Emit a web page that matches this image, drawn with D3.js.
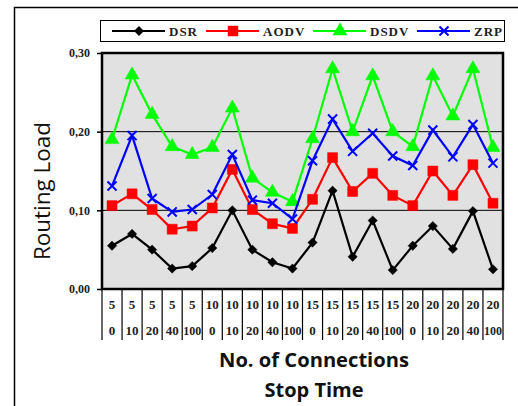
<!DOCTYPE html>
<html><head><meta charset="utf-8">
<script src="https://cdn.jsdelivr.net/npm/d3@7"></script>
<style>body{margin:0;background:#fff}svg{display:block}</style>
</head><body>
<script>
const connections = [5,5,5,5,5,10,10,10,10,10,15,15,15,15,15,20,20,20,20,20];
const stopTimes   = [0,10,20,40,100,0,10,20,40,100,0,10,20,40,100,0,10,20,40,100];
const DSR  = [0.055,0.070,0.050,0.026,0.029,0.052,0.100,0.050,0.034,0.026,0.059,0.125,0.041,0.087,0.024,0.055,0.080,0.051,0.099,0.025];
const AODV = [0.106,0.121,0.101,0.076,0.080,0.103,0.152,0.101,0.083,0.077,0.114,0.167,0.124,0.147,0.119,0.106,0.150,0.119,0.158,0.109];
const DSDV = [0.190,0.272,0.222,0.181,0.171,0.180,0.230,0.141,0.123,0.111,0.191,0.280,0.200,0.271,0.200,0.181,0.271,0.220,0.280,0.180];
const ZRP  = [0.131,0.195,0.115,0.098,0.101,0.120,0.171,0.113,0.109,0.089,0.163,0.216,0.175,0.198,0.169,0.157,0.202,0.168,0.209,0.160];
const yTicks = [0, 0.1, 0.2, 0.3];
const seriesNames = ["DSR","AODV","DSDV","ZRP"];

const series = [
  {name:"DSR", values:DSR, color:"#000000", symbol:d3.symbolDiamond2, size:55},
  {name:"AODV", values:AODV, color:"#ff0000", symbol:d3.symbolSquare, size:100},
  {name:"DSDV", values:DSDV, color:"#00ff00", symbol:d3.symbolTriangle, size:85},
  {name:"ZRP", values:ZRP, color:"#0000ff", symbol:d3.symbolX, size:55}
];
const cats = connections.map((c,i)=>c+"|"+stopTimes[i]+"|"+i);

const W=518,H=406;
const svg=d3.select("body").append("svg").attr("width",W).attr("height",H);

// outer chart border
svg.append("rect").attr("x",14.5).attr("y",7.5).attr("width",W+10).attr("height",H+10)
  .attr("fill","none").attr("stroke","#000").attr("stroke-width",1.5);

const L=102,R=503,T=53,B=289;
const x=d3.scaleBand().domain(cats).range([L,R]);
const y=d3.scaleLinear().domain([0,0.3]).range([B,T]);
const loc=d3.formatLocale({decimal:",",thousands:".",grouping:[3],currency:["",""]});
const fmt=loc.format(".2f");

// plot background
svg.append("rect").attr("x",L).attr("y",T).attr("width",R-L).attr("height",B-T).attr("fill","#e1e1e1");
// gridlines
svg.append("g").selectAll("line").data(yTicks.filter(v=>v>0&&v<0.3)).join("line")
  .attr("x1",L).attr("x2",R).attr("y1",d=>y(d)).attr("y2",d=>y(d)).attr("stroke","#000").attr("stroke-width",1);

// y axis
const yAxis=svg.append("g").attr("transform",`translate(${L},0)`)
  .call(d3.axisLeft(y).tickValues(yTicks).tickFormat(fmt).tickSize(5).tickPadding(7));
yAxis.select(".domain").remove();
yAxis.selectAll("line").attr("stroke","#000").attr("stroke-width",1.5);
yAxis.selectAll("text").attr("font-family","Liberation Serif").attr("font-weight","bold").attr("font-size","12px").attr("fill","#222");

// lines and markers
const line=d3.line().x((d,i)=>x(cats[i])+x.bandwidth()/2).y(d=>y(d));
series.forEach(s=>{
  const g=svg.append("g");
  g.append("path").datum(s.values).attr("d",line).attr("fill","none").attr("stroke",s.color).attr("stroke-width",2.2);
  g.selectAll("path.m").data(s.values).join("path").attr("class","m")
    .attr("transform",(d,i)=>`translate(${x(cats[i])+x.bandwidth()/2},${y(d)})`)
    .attr("d",d3.symbol().type(s.symbol).size(s.size))
    .attr("fill",s.symbol===d3.symbolX?"none":s.color)
    .attr("stroke",s.color).attr("stroke-width",s.symbol===d3.symbolX?2:0.5);
});

// plot frame
svg.append("rect").attr("x",L).attr("y",T).attr("width",R-L).attr("height",B-T)
  .attr("fill","none").attr("stroke","#000").attr("stroke-width",2.5);

// category table
const tb=svg.append("g");
const edges=cats.map(c=>x(c)).concat([R]);
tb.selectAll("line").data(edges).join("line")
  .attr("x1",d=>d).attr("x2",d=>d).attr("y1",B).attr("y2",340).attr("stroke","#000").attr("stroke-width",1.2);
tb.selectAll("text.r1").data(cats).join("text").attr("class","r1")
  .attr("x",d=>x(d)+x.bandwidth()/2).attr("y",309).attr("text-anchor","middle")
  .attr("font-family","Liberation Serif").attr("font-weight","bold").attr("font-size","13px").attr("fill","#222")
  .text((d,i)=>connections[i]);
tb.selectAll("text.r2").data(cats).join("text").attr("class","r2")
  .attr("x",d=>x(d)+x.bandwidth()/2).attr("y",335).attr("text-anchor","middle")
  .attr("font-family","Liberation Serif").attr("font-weight","bold").attr("font-size","13px").attr("fill","#222")
  .attr("textLength",(d,i)=>String(stopTimes[i]).length>2?18:null)
  .attr("lengthAdjust","spacingAndGlyphs")
  .text((d,i)=>stopTimes[i]);

// axis titles
svg.append("text").attr("x",314).attr("y",367).attr("text-anchor","middle")
  .attr("font-family","Open Sans").attr("font-weight","bold").attr("font-size","20px").attr("fill","#111")
  .attr("textLength",190).attr("lengthAdjust","spacingAndGlyphs")
  .text("No. of Connections");
svg.append("text").attr("x",314).attr("y",397).attr("text-anchor","middle")
  .attr("font-family","Open Sans").attr("font-weight","bold").attr("font-size","20px").attr("fill","#111")
  .text("Stop Time");
svg.append("text").attr("transform","translate(50,191) rotate(-90)").attr("text-anchor","middle")
  .attr("font-family","Open Sans").attr("font-size","21px").attr("fill","#111")
  .attr("textLength",138).attr("lengthAdjust","spacingAndGlyphs")
  .text("Routing Load");

// legend
const lg=svg.append("g");
lg.append("rect").attr("x",100.5).attr("y",20.5).attr("width",404).attr("height",21)
  .attr("fill","#fff").attr("stroke","#000").attr("stroke-width",1);
const lx=[112,206,313,417];
series.forEach((s,i)=>{
  const g=lg.append("g").attr("transform",`translate(${lx[i]},31)`);
  g.append("line").attr("x1",0).attr("x2",53).attr("stroke",s.color).attr("stroke-width",2.2);
  g.append("path").attr("transform","translate(27,0)").attr("d",d3.symbol().type(s.symbol).size(s.size))
    .attr("fill",s.symbol===d3.symbolX?"none":s.color).attr("stroke",s.color).attr("stroke-width",s.symbol===d3.symbolX?2:0.5);
  g.append("text").attr("x",57).attr("y",4.5).attr("font-family","Liberation Serif").attr("font-weight","bold")
    .attr("font-size","13px").attr("fill","#222").attr("letter-spacing","1px").text(seriesNames[i]);
});
</script>
</body></html>
